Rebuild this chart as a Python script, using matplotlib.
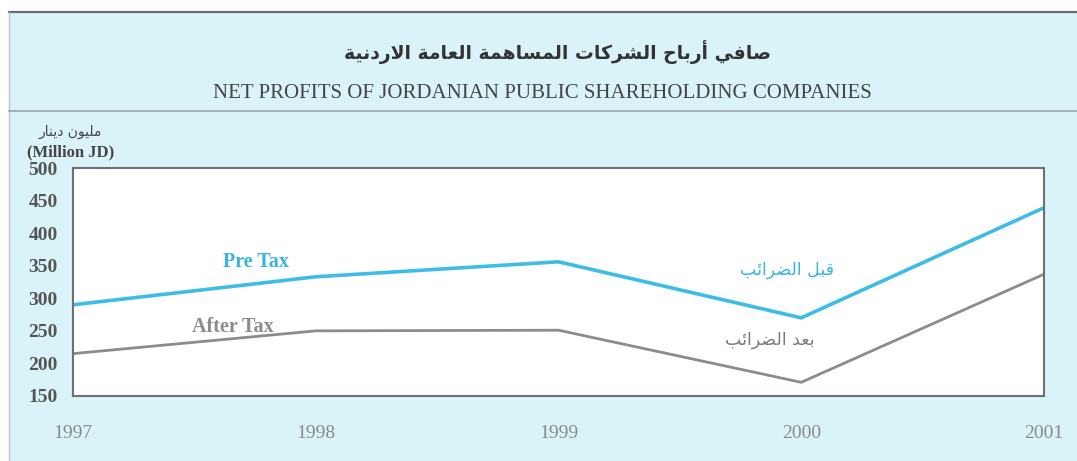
import matplotlib
matplotlib.use("Agg")
import matplotlib.pyplot as plt
from matplotlib.patches import Rectangle
from matplotlib.lines import Line2D

# ---------------- data ----------------
years = ["1997", "1998", "1999", "2000", "2001"]
pre_tax = [290, 333, 356, 270, 439]
after_tax = [215, 250, 251, 171, 337]
y_ticks = [150, 200, 250, 300, 350, 400, 450, 500]

title_ar = "صافي أرباح الشركات المساهمة العامة الاردنية"
title_en = "NET PROFITS OF JORDANIAN PUBLIC SHAREHOLDING COMPANIES"
unit_ar = "مليون دينار"
unit_en = "(Million JD)"
pre_label_en = "Pre Tax"
after_label_en = "After Tax"
pre_label_ar = "قبل الضرائب"
after_label_ar = "بعد الضرائب"

# ------------- minimal Arabic shaping (presentation forms + visual order) -------------
FORMS = {
    'ا': (0xFE8D, 0xFE8E, None, None),
    'أ': (0xFE83, 0xFE84, None, None),
    'ب': (0xFE8F, 0xFE90, 0xFE91, 0xFE92),
    'ة': (0xFE93, 0xFE94, None, None),
    'ت': (0xFE95, 0xFE96, 0xFE97, 0xFE98),
    'ح': (0xFEA1, 0xFEA2, 0xFEA3, 0xFEA4),
    'د': (0xFEA9, 0xFEAA, None, None),
    'ر': (0xFEAD, 0xFEAE, None, None),
    'س': (0xFEB1, 0xFEB2, 0xFEB3, 0xFEB4),
    'ش': (0xFEB5, 0xFEB6, 0xFEB7, 0xFEB8),
    'ص': (0xFEB9, 0xFEBA, 0xFEBB, 0xFEBC),
    'ض': (0xFEBD, 0xFEBE, 0xFEBF, 0xFEC0),
    'ع': (0xFEC9, 0xFECA, 0xFECB, 0xFECC),
    'ف': (0xFED1, 0xFED2, 0xFED3, 0xFED4),
    'ق': (0xFED5, 0xFED6, 0xFED7, 0xFED8),
    'ك': (0xFED9, 0xFEDA, 0xFEDB, 0xFEDC),
    'ل': (0xFEDD, 0xFEDE, 0xFEDF, 0xFEE0),
    'م': (0xFEE1, 0xFEE2, 0xFEE3, 0xFEE4),
    'ن': (0xFEE5, 0xFEE6, 0xFEE7, 0xFEE8),
    'ه': (0xFEE9, 0xFEEA, 0xFEEB, 0xFEEC),
    'و': (0xFEED, 0xFEEE, None, None),
    'ي': (0xFEF1, 0xFEF2, 0xFEF3, 0xFEF4),
    'ئ': (0xFE89, 0xFE8A, 0xFE8B, 0xFE8C),
}
LAM_ALEF = {'ا': (0xFEFB, 0xFEFC), 'أ': (0xFEF7, 0xFEF8)}


def shape(s):
    chars = list(s)
    n = len(chars)
    out = []

    def joins_next(c):
        return c in FORMS and FORMS[c][2] is not None

    i = 0
    while i < n:
        c = chars[i]
        if c not in FORMS:
            out.append(c)
            i += 1
            continue
        prev = chars[i - 1] if i > 0 else None
        conn_prev = prev is not None and joins_next(prev)
        if c == 'ل' and i + 1 < n and chars[i + 1] in LAM_ALEF:
            iso, fin = LAM_ALEF[chars[i + 1]]
            out.append(chr(fin if conn_prev else iso))
            i += 2
            continue
        nxt = chars[i + 1] if i + 1 < n else None
        conn_next = joins_next(c) and nxt in FORMS
        iso, fin, ini, med = FORMS[c]
        if conn_prev and conn_next:
            code = med
        elif conn_prev:
            code = fin
        elif conn_next:
            code = ini
        else:
            code = iso
        out.append(chr(code))
        i += 1
    return "".join(reversed(out))


# ---------------- figure ----------------
W, H = 1077, 461
fig = plt.figure(figsize=(W / 100, H / 100), dpi=100)
fig.patch.set_facecolor("white")

def fx(px):
    return px / W

def fy(py):
    return 1 - py / H

bg = "#d9f3f9"
fig.patches.append(Rectangle((fx(9), 0), 1 - fx(9), fy(12), transform=fig.transFigure,
                             facecolor=bg, edgecolor="none", zorder=-5))
fig.lines.append(Line2D([fx(9), 1], [fy(12), fy(12)], transform=fig.transFigure,
                        color="#6a6a6a", lw=1.6, zorder=-4))
fig.lines.append(Line2D([fx(9), fx(9)], [0, fy(12)], transform=fig.transFigure,
                        color="#b8c4c8", lw=1.0, zorder=-4))
fig.lines.append(Line2D([fx(9), 1], [fy(111), fy(111)], transform=fig.transFigure,
                        color="#9aa4a8", lw=1.2, zorder=-4))

serif = ["Liberation Serif", "DejaVu Serif"]
ar_font = ["DejaVu Sans"]

fig.text(fx(557), fy(52), shape(title_ar), ha="center", va="center",
         fontsize=13.5, family=ar_font, color="#333333", fontweight="bold")
fig.text(fx(542), fy(94), title_en, ha="center", va="center",
         fontsize=15, family=serif, color="#444444")
fig.text(fx(70), fy(132), shape(unit_ar), ha="center", va="center",
         fontsize=10, family=ar_font, color="#444444")
fig.text(fx(71), fy(152), unit_en, ha="center", va="center",
         fontsize=12, family=serif, color="#444444", fontweight="bold")

ax = fig.add_axes([fx(73), fy(396), fx(1044) - fx(73), (396 - 168) / H])
ax.set_zorder(2)
ax.set_facecolor("white")
x = list(range(len(years)))
ax.plot(x, pre_tax, color="#3cbde6", lw=2.6, solid_joinstyle="miter")
ax.plot(x, after_tax, color="#8c8c8c", lw=2.0, solid_joinstyle="miter")

ax.set_xlim(0, len(years) - 1)
ax.set_ylim(150, 500)
ax.set_xticks(x)
ax.set_xticklabels(years, family=serif, fontsize=14, color="#8a8a8a")
ax.set_yticks(y_ticks)
ax.set_yticklabels([str(v) for v in y_ticks], family=serif, fontsize=14,
                   color="#555555", fontweight="bold")
ax.tick_params(axis="x", length=0, pad=21)
ax.tick_params(axis="y", length=0, pad=11)
for sp in ax.spines.values():
    sp.set_color("#707070")
    sp.set_linewidth(1.5)

ax.text(0.755, 356, pre_label_en, ha="center", va="center", fontsize=14.5,
        family=serif, color="#38b4e2", fontweight="bold")
ax.text(0.66, 256, after_label_en, ha="center", va="center", fontsize=14.5,
        family=serif, color="#8c8c8c", fontweight="bold")
ax.text(2.94, 343, shape(pre_label_ar), ha="center", va="center", fontsize=12.5,
        family=ar_font, color="#38b4e2")
ax.text(2.87, 236, shape(after_label_ar), ha="center", va="center", fontsize=12.5,
        family=ar_font, color="#7a7a7a")

fig.savefig("out.png", dpi=100, facecolor=fig.get_facecolor())
